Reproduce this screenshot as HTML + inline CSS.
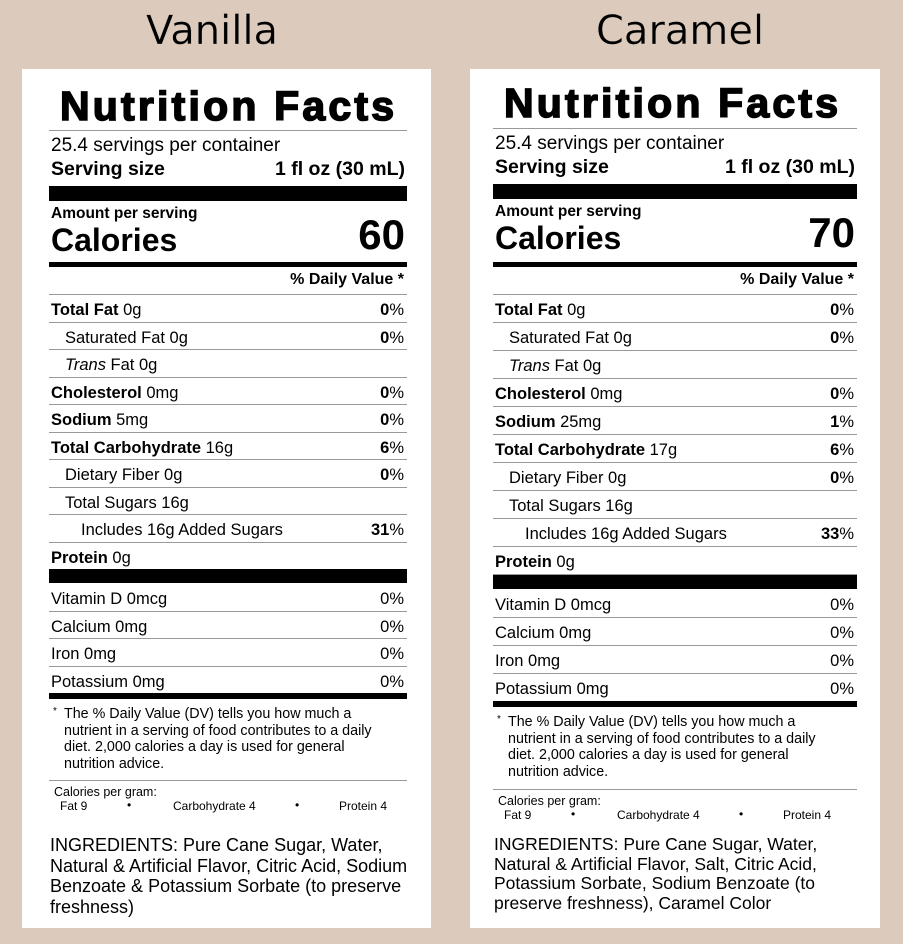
<!DOCTYPE html><html><head><meta charset="utf-8"><style>
body{margin:0;width:903px;height:944px;background:#dccbbd;position:relative;overflow:hidden;font-family:"Liberation Sans",Arial,sans-serif;color:#000}
.t{position:absolute;white-space:nowrap}
.title{font-family:"DejaVu Sans","Liberation Sans",sans-serif;font-size:40px;position:absolute;top:8px;-webkit-text-stroke:0.3px #dccbbd}
.panel{position:absolute;top:69px;height:859px;background:#fff}
.k{position:absolute;background:#000}
.row{position:absolute;font-size:16.5px;border-bottom:1px solid #999;box-sizing:border-box}
.row span.r{position:absolute;right:3px;top:0}
</style></head><body>
<div class="title" style="left:146px">Vanilla</div>
<div class="title" style="left:596px">Caramel</div>
<div class="panel" style="left:22px;width:409px"></div>
<div class="panel" style="left:470px;width:410px"></div>
<div id="c"></div>
<script>
var C=document.getElementById('c'),h='';
function t(x,y,s,fs,w,extra){h+='<div class="t" style="left:'+x+'px;top:'+y+'px;font-size:'+fs+'px;font-weight:'+(w||'normal')+';'+(extra||'')+'">'+s+'</div>';}
function tr(x,y,s,fs,w){h+='<div class="t" style="right:'+(903-x)+'px;top:'+y+'px;font-size:'+fs+'px;font-weight:'+(w||'normal')+'">'+s+'</div>';}
function k(x,y,w,hh,c){h+='<div class="k" style="left:'+x+'px;top:'+y+'px;width:'+w+'px;height:'+hh+'px;background:'+(c||'#000')+'"></div>';}
function panel(o){
 var L=o.L,R=o.R,W=R-L;
 t(L+11,o.hy,'Nutrition Facts',41,'bold','letter-spacing:3.2px;-webkit-text-stroke:1.6px #000');
 k(L,o.l1,W,1,'#999');
 t(L+2,o.l1+5,'25.4 servings per container',19);
 t(L+2,o.l1+28,'Serving size',19.5,'bold');tr(R-2,o.l1+28,'1 fl oz (30 mL)',19.5,'bold');
 k(L,o.b1,W,15);
 t(L+2,o.b1+19,'Amount per serving',15.5,'bold');
 t(L+2,o.b1+36,'Calories',32,'bold');tr(R-2,o.b1+25,o.cal,42,'bold');
 k(L,262,W,5);
 tr(R-3,271,'% Daily Value *',16,'bold');
 k(L,294,W,1,'#999');
 var rows=o.rows,y=295,rh=o.rh;
 rows.forEach(function(r){
  h+='<div class="row" style="left:'+L+'px;top:'+y+'px;width:'+W+'px;height:'+rh+'px;line-height:'+(rh+3)+'px"><span style="position:absolute;left:'+(2+r[2])+'px">'+r[0]+'</span><span class="r">'+r[1]+'</span></div>';
  y+=rh;});
 k(L,o.b2,W,o.b2h);
 y=o.b2+o.b2h+1;
 ['Vitamin D 0mcg','Calcium 0mg','Iron 0mg','Potassium 0mg'].forEach(function(s,i){
  h+='<div class="row" style="left:'+L+'px;top:'+y+'px;width:'+W+'px;height:'+rh+'px;line-height:'+(rh+3)+'px;'+(i==3?'border:none':'')+'"><span style="position:absolute;left:2px">'+s+'</span><span class="r">0%</span></div>';y+=rh;});
 k(L,o.b3,W,6);
 var f=o.b3+13;
 t(L+4,f,'*',10);
 h+='<div class="t" style="left:'+(L+15)+'px;top:'+f+'px;font-size:14.3px;line-height:16.6px;white-space:normal;width:345px">The % Daily Value (DV) tells you how much a<br>nutrient in a serving of food contributes to a daily<br>diet. 2,000 calories a day is used for general<br>nutrition advice.</div>';
 k(L,o.l2,W,1,'#999');
 t(L+5,o.l2+5,'Calories per gram:',12.5);
 t(L+11,o.l2+19,'Fat 9',12);t(L+78,o.l2+18,'•',12);t(L+124,o.l2+19,'Carbohydrate 4',12);t(L+246,o.l2+18,'•',12);t(L+290,o.l2+19,'Protein 4',12);
 h+='<div class="t" style="left:'+(L+1)+'px;top:'+o.iy+'px;font-size:'+o.ifs+'px;line-height:'+o.ilh+'px;white-space:normal;width:'+(W+20)+'px">'+o.ing+'</div>';
}
function rows(s,c,a,p){return [['<b>Total Fat</b> 0g','<b>0</b>%',0],['Saturated Fat 0g','<b>0</b>%',14],['<i>Trans</i> Fat 0g','',14],['<b>Cholesterol</b> 0mg','<b>0</b>%',0],['<b>Sodium</b> '+s,'<b>'+p[0]+'</b>%',0],['<b>Total Carbohydrate</b> '+c,'<b>6</b>%',0],['Dietary Fiber 0g','<b>0</b>%',14],['Total Sugars 16g','',14],['Includes 16g Added Sugars','<b>'+a+'</b>%',30],['<b>Protein</b> 0g','',0]];}
panel({L:49,R:407,hy:83,l1:130,b1:186,cal:'60',rh:27.5,rows:rows('5mg','16g','31',['0']),b2:569,b2h:14,b3:693,l2:780,iy:835,ifs:18,ilh:20.5,
 ing:'INGREDIENTS: Pure Cane Sugar, Water,<br>Natural &amp; Artificial Flavor, Citric Acid, Sodium<br>Benzoate &amp; Potassium Sorbate (to preserve<br>freshness)'});
panel({L:493,R:857,hy:80,l1:128,b1:184,cal:'70',rh:28,rows:rows('25mg','17g','33',['1']),b2:575,b2h:14,b3:701,l2:789,iy:835,ifs:17.5,ilh:19.7,
 ing:'INGREDIENTS: Pure Cane Sugar, Water,<br>Natural &amp; Artificial Flavor, Salt, Citric Acid,<br>Potassium Sorbate, Sodium Benzoate (to<br>preserve freshness), Caramel Color'});
C.innerHTML=h;
</script></body></html>
